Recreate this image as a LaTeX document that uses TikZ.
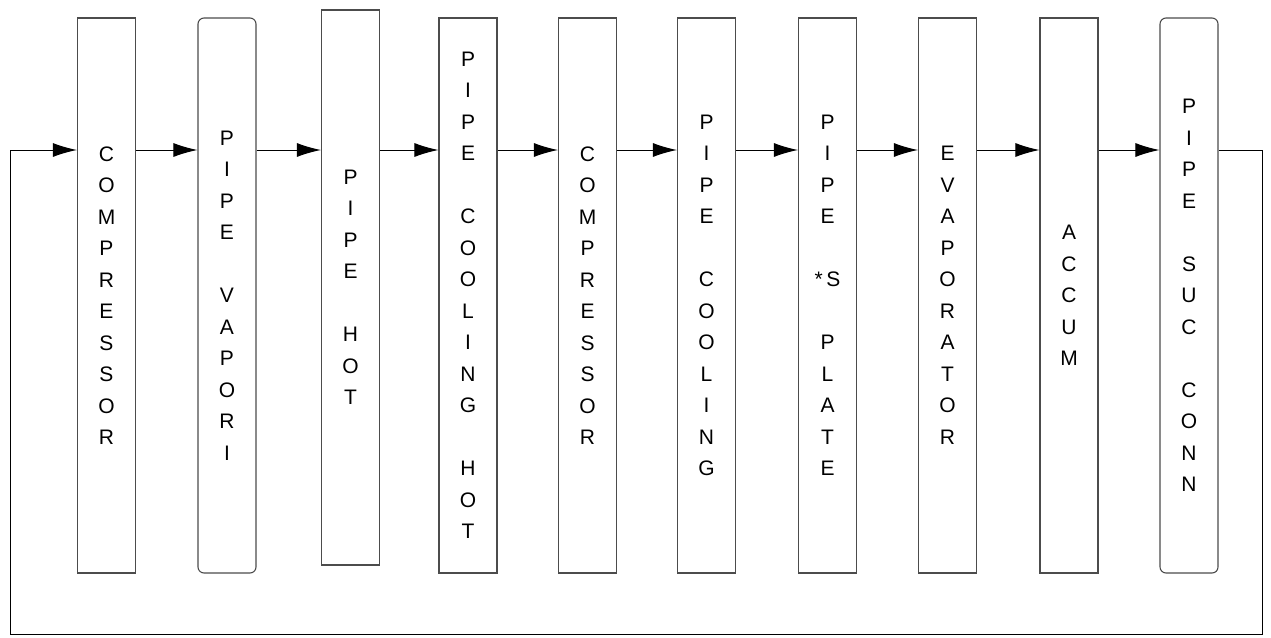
\documentclass[tikz,border=0pt]{standalone}
\usepackage{fontspec}
\setmainfont{Liberation Sans}
\usetikzlibrary{arrows.meta}
\begin{document}
\begin{tikzpicture}[x=1pt,y=-1pt,
  box/.style={draw=black!70,line width=1.1pt,minimum width=58pt,minimum height=555pt,inner sep=0pt,align=center,font=\fontsize{21}{31.5}\selectfont},
  rbox/.style={box,rounded corners=6pt},
  arr/.style={line width=1pt,-{Latex[length=24pt,width=14pt]}},
  ln/.style={line width=1pt}]
\useasboundingbox (0,0) rectangle (1271,637);
\node[box] (b1) at (106.5,295.5) {C\\O\\M\\P\\R\\E\\S\\S\\O\\R};
\node[rbox] (b2) at (227,295.5) {P\\I\\P\\E\\[31.5pt]V\\A\\P\\O\\R\\I};
\node[box] (b3) at (350.5,287.5) {P\\I\\P\\E\\[31.5pt]H\\O\\T};
\node[box] (b4) at (468,295.5) {P\\I\\P\\E\\[31.5pt]C\\O\\O\\L\\I\\N\\G\\[31.5pt]H\\O\\T};
\node[box] (b5) at (587.5,295.5) {C\\O\\M\\P\\R\\E\\S\\S\\O\\R};
\node[box] (b6) at (706.5,295.5) {P\\I\\P\\E\\[31.5pt]C\\O\\O\\L\\I\\N\\G};
\node[box] (b7) at (827.5,295.5) {P\\I\\P\\E\\[31.5pt]*\,S\\[31.5pt]P\\L\\A\\T\\E};
\node[box] (b8) at (947.5,295.5) {E\\V\\A\\P\\O\\R\\A\\T\\O\\R};
\node[box] (b9) at (1069,295.5) {A\\C\\C\\U\\M};
\node[rbox] (b10) at (1189,295.5) {P\\I\\P\\E\\[31.5pt]S\\U\\C\\[31.5pt]C\\O\\N\\N};
\foreach \a/\b in {b1/b2,b2/b3,b3/b4,b4/b5,b5/b6,b6/b7,b7/b8,b8/b9,b9/b10}
  \draw[arr] (\a.east|-0,150) -- (\b.west|-0,150);
\coordinate (c1) at (1262,150);
\coordinate (c2) at (1262,634);
\coordinate (c3) at (10,634);
\coordinate (c4) at (10,150);
\draw[ln] (b10.east|-0,150) -- (c1) -- (c2) -- (c3) -- (c4);
\draw[arr] (c4) -- (b1.west|-0,150);
\end{tikzpicture}
\end{document}
